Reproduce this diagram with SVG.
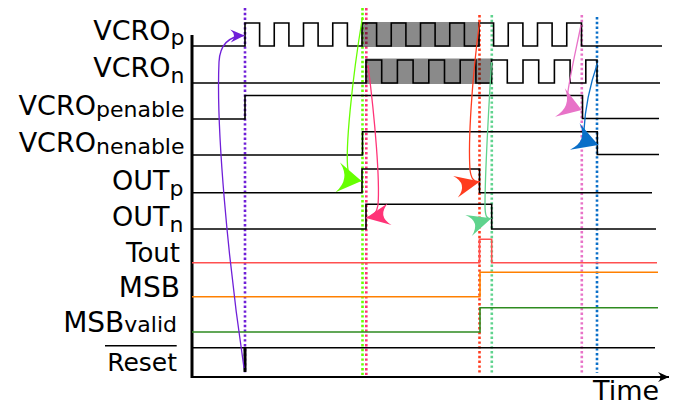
<svg xmlns="http://www.w3.org/2000/svg" width="680" height="405" viewBox="0 0 680 405">
<style>
text{font-family:"DejaVu Sans","Liberation Sans",sans-serif;fill:#000}
.lbl{font-size:27px}
.sub{font-size:22px}
.sig{fill:none;stroke:#000;stroke-width:1.6}
.dot{fill:none;stroke-width:2.6;stroke-dasharray:2.4 2.4}
.arr{fill:none;stroke-width:1.3}
.shade{fill:#000;fill-opacity:0.46}
</style>
<defs>
<marker id="mAxis" markerUnits="userSpaceOnUse" viewBox="-14 -7 16 14" markerWidth="16" markerHeight="14" refX="0" refY="0" orient="auto" overflow="visible"><path d="M0,0 L-11,-5 Q-6,0 -11,5 Z" fill="#000"/></marker>
<marker id="mPurple" markerUnits="userSpaceOnUse" viewBox="-15 -8 17 16" markerWidth="17" markerHeight="16" refX="0" refY="0" orient="auto" overflow="visible"><path d="M0,0 L-14,-6.5 Q-7,0 -14,6.5 Z" fill="#6f1fd8"/></marker>
<marker id="mLime" markerUnits="userSpaceOnUse" viewBox="-27 -17 29 34" markerWidth="29" markerHeight="34" refX="0" refY="0" orient="auto" overflow="visible"><path d="M0,0 L-24,-15 Q-11,0 -24,15 Z" fill="#66ff00"/></marker>
<marker id="mRose" markerUnits="userSpaceOnUse" viewBox="-27 -17 29 34" markerWidth="29" markerHeight="34" refX="0" refY="0" orient="auto" overflow="visible"><path d="M0,0 L-24,-11 Q-11,0 -24,11 Z" fill="#ff3377"/></marker>
<marker id="mRed" markerUnits="userSpaceOnUse" viewBox="-27 -17 29 34" markerWidth="29" markerHeight="34" refX="0" refY="0" orient="auto" overflow="visible"><path d="M0,0 L-25,-11 Q-12,0 -25,11 Z" fill="#ff3c1e"/></marker>
<marker id="mTeal" markerUnits="userSpaceOnUse" viewBox="-27 -17 29 34" markerWidth="29" markerHeight="34" refX="0" refY="0" orient="auto" overflow="visible"><path d="M0,0 L-24,-11 Q-11,0 -24,11 Z" fill="#5fd38d"/></marker>
<marker id="mPink" markerUnits="userSpaceOnUse" viewBox="-27 -17 29 34" markerWidth="29" markerHeight="34" refX="0" refY="0" orient="auto" overflow="visible"><path d="M0,0 L-23,-15 Q-10,0 -23,15 Z" fill="#e873c8"/></marker>
<marker id="mBlue" markerUnits="userSpaceOnUse" viewBox="-27 -17 29 34" markerWidth="29" markerHeight="34" refX="0" refY="0" orient="auto" overflow="visible"><path d="M0,0 L-25,-14 Q-11,0 -25,14 Z" fill="#0a6fc8"/></marker>
</defs>
<rect width="680" height="405" fill="#fff"/>

<g id="markers-dotted">
<line class="dot" x1="245" y1="8" x2="245" y2="373" stroke="#6f1fd8"/>
<line class="dot" x1="362.5" y1="8" x2="362.5" y2="375" stroke="#66ff00"/>
<line class="dot" x1="366.3" y1="8" x2="366.3" y2="375" stroke="#ff3377"/>
<line class="dot" x1="479.5" y1="15" x2="479.5" y2="373" stroke="#ff3c1e"/>
<line class="dot" x1="491.8" y1="15" x2="491.8" y2="375" stroke="#5fd38d"/>
<line class="dot" x1="581.8" y1="15" x2="581.8" y2="373" stroke="#e873c8"/>
<line class="dot" x1="597" y1="17" x2="597" y2="373" stroke="#0a6fc8"/>
</g>

<g id="axes">
<line x1="192" y1="35" x2="192" y2="378" stroke="#000" stroke-width="3"/>
<line x1="191" y1="377" x2="669" y2="377" stroke="#000" stroke-width="2.2" marker-end="url(#mAxis)"/>
<text x="593" y="400" style="font-size:27px">Time</text>
</g>

<g id="VCROp">
<path class="sig" d="M192,46 H245 V23 H259.6 V46 H274.25 V23 H288.9 V46 H303.5 V23 H318.1 V46 H332.75 V23 H347.4 V46 H362 V23 H376.6 V46 H391.25 V23 H405.9 V46 H420.5 V23 H435.1 V46 H449.75 V23 H464.4 V46 H479 V23 H493.6 V46 H508.25 V23 H522.9 V46 H537.5 V23 H552.1 V46 H566.75 V23 H581.5 V46 H662"/>
<rect class="shade" x="362" y="22" width="117.5" height="25"/>
<text class="lbl" x="184.5" y="40" text-anchor="end">VCRO<tspan class="sub" dy="5">p</tspan></text>
</g>

<g id="VCROn">
<path class="sig" d="M192,83 H366 V60 H381.7 V83 H397.4 V60 H413.1 V83 H428.8 V60 H444.5 V83 H460.2 V60 H475.9 V83 H491.6 V60 H507.3 V83 H523 V60 H538.7 V83 H554.4 V60 H570.1 V83 H585.8 V60 H597 V83 H660"/>
<rect class="shade" x="365.5" y="58.5" width="126.5" height="25.5"/>
<text class="lbl" x="184.5" y="77" text-anchor="end">VCRO<tspan class="sub" dy="6">n</tspan></text>
</g>

<g id="VCROpenable">
<path class="sig" d="M192,119 H245 V95.5 H582.5 V118.5 H659"/>
<text class="lbl" x="184.5" y="115" text-anchor="end">VCRO<tspan class="sub" dy="2">penable</tspan></text>
</g>

<g id="VCROnenable">
<path class="sig" d="M192,155 H362.5 V131.7 H597.3 V154.5 H659"/>
<text class="lbl" x="184.5" y="151.5" text-anchor="end">VCRO<tspan class="sub" dy="2">nenable</tspan></text>
</g>

<g id="OUTp">
<path class="sig" d="M192,192.7 H362 V169 H479.5 V192.7 H652"/>
<text class="lbl" x="183.5" y="190" text-anchor="end">OUT<tspan class="sub" dy="6">p</tspan></text>
</g>

<g id="OUTn">
<path class="sig" d="M192,229 H366 V204.3 H491.7 V229 H656"/>
<text class="lbl" x="183.5" y="225.7" text-anchor="end">OUT<tspan class="sub" dy="6">n</tspan></text>
</g>

<g id="Tout">
<path class="sig" style="stroke:#ff5050" d="M192,262.7 H479.5 V239.3 H491.7 V262.7 H657"/>
<text class="lbl" x="180" y="261.7" text-anchor="end" style="font-size:26px">Tout</text>
</g>

<g id="MSB">
<path class="sig" style="stroke:#ff8000" d="M192,296.7 H480 V272.3 H658"/>
<text class="lbl" x="180" y="296.7" text-anchor="end" style="font-size:28px">MSB</text>
</g>

<g id="MSBvalid">
<path class="sig" style="stroke:#2e8b20" d="M192,332 H480 V307.7 H658"/>
<text class="lbl" x="177" y="331.7" text-anchor="end" style="font-size:28px">MSB<tspan class="sub">valid</tspan></text>
</g>

<g id="Reset">
<path class="sig" d="M192,347.7 H655"/>
<line x1="245" y1="347" x2="245" y2="372" stroke="#000" stroke-width="3"/>
<line x1="105" y1="345.7" x2="176.7" y2="345.7" stroke="#000" stroke-width="1.5"/>
<text class="lbl" x="177" y="370.7" text-anchor="end" style="font-size:25px">Reset</text>
</g>

<g id="connectors">
<path class="arr" stroke="#6f1fd8" d="M244,368 C228,260 216,130 219,62 C220,42 232,36 244.5,35.5" marker-end="url(#mPurple)"/>
<path class="arr" stroke="#66ff00" d="M362.5,17 C352,80 345,150 348,170 C349,177 355,180 361.5,181" marker-end="url(#mLime)"/>
<path class="arr" stroke="#ff3377" d="M368,65 C375,120 380,180 378,205 C377,213 372,217 366,218" marker-end="url(#mRose)"/>
<path class="arr" stroke="#ff3c1e" d="M479.5,22 C472,80 468,140 470,170 C471,177 473,183 480,181.5" marker-end="url(#mRed)"/>
<path class="arr" stroke="#5fd38d" d="M491.5,62 C488,120 485,180 485,205 C485,214 486,220 491.5,218.3" marker-end="url(#mTeal)"/>
<path class="arr" stroke="#e873c8" d="M581,25 C576,50 570,75 567.5,95 C567,101 573,107 581.7,110" marker-end="url(#mPink)"/>
<path class="arr" stroke="#0a6fc8" d="M597.5,63 C590,85 585,110 584,130 C584,137 590,142 598.3,145" marker-end="url(#mBlue)"/>
</g>
</svg>
